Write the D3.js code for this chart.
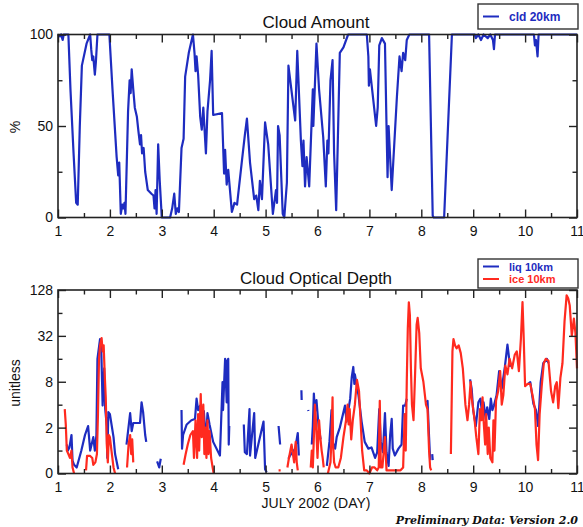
<!DOCTYPE html>
<html>
<head>
<meta charset="utf-8">
<script src="https://cdn.jsdelivr.net/npm/d3@7"></script>
<style>
body { margin: 0; background: #fff; }
svg text { font-family: "Liberation Sans", Arial, sans-serif; }
</style>
</head>
<body>
<div class="root"></div>
<script>
// axis ticks
var dayTicks = [1, 2, 3, 4, 5, 6, 7, 8, 9, 10, 11];
var halfDayTicks = [1.5, 2.5, 3.5, 4.5, 5.5, 6.5, 7.5, 8.5, 9.5, 10.5];
var pctTicks = [0, 50, 100];
var pctMinorTicks = [25, 75];
var tauTicks = [0.5, 2, 8, 32, 128];
var tauTickLabels = ["0", "2", "8", "32", "128"];
var tauMinorTicks = [1, 4, 16, 64];

// cloud amount (%), [day, value]
var cld20km = [
  [1.00,100],[1.04,99],[1.06,100],[1.09,97],[1.11,100],[1.20,100],[1.24,70],[1.30,35],[1.35,8],[1.38,7],
  [1.42,50],[1.46,83],[1.55,95],[1.62,100],[1.64,92],[1.66,86],[1.68,88],[1.71,78],[1.73,85],[1.76,100],
  [1.99,100],[2.05,70],[2.13,33],[2.16,23],[2.18,30],[2.21,2],[2.24,7],[2.26,5],[2.28,8],[2.30,2],
  [2.35,58],[2.38,75],[2.40,68],[2.42,81],[2.45,70],[2.48,60],[2.52,55],[2.55,47],[2.58,40],[2.60,45],
  [2.62,35],[2.65,38],[2.68,25],[2.73,15],[2.80,13],[2.84,12],[2.86,5],[2.88,15],[2.90,2],[2.93,40],
  [2.96,20],[3.00,0],[3.16,0],[3.20,5],[3.24,13],[3.27,2],[3.30,5],[3.33,3],[3.38,38],[3.42,43],
  [3.45,77],[3.52,90],[3.60,100],[3.63,90],[3.65,80],[3.67,88],[3.70,78],[3.74,55],[3.77,48],[3.80,60],
  [3.85,35],[3.88,58],[3.93,75],[3.96,91],[3.99,56],[4.16,57],[4.20,24],[4.22,37],[4.25,18],[4.28,26],
  [4.35,3],[4.40,8],[4.45,7],[4.54,30],[4.60,45],[4.64,54],[4.70,30],[4.74,20],[4.78,10],[4.82,12],
  [4.86,4],[4.89,20],[4.93,10],[4.99,52],[5.05,40],[5.14,2],[5.20,15],[5.22,8],[5.24,50],[5.27,45],
  [5.33,2],[5.36,0],[5.41,19],[5.44,83],[5.57,53],[5.61,91],[5.68,42],[5.71,28],[5.73,42],[5.76,17],
  [5.79,33],[5.84,17],[5.91,70],[5.92,50],[5.98,95],[6.03,70],[6.11,44],[6.16,17],[6.19,42],[6.21,35],
  [6.25,75],[6.29,86],[6.32,35],[6.36,4],[6.39,40],[6.43,90],[6.50,93],[6.59,100],[6.95,100],[6.98,88],
  [6.99,72],[7.01,81],[7.13,50],[7.16,60],[7.19,94],[7.24,98],[7.30,95],[7.33,50],[7.35,22],[7.37,50],
  [7.43,15],[7.53,66],[7.58,88],[7.62,80],[7.65,90],[7.69,86],[7.72,97],[7.77,100],[8.15,100],[8.22,1],
  [8.24,0],[8.44,0],[8.59,100],[9.03,100],[9.05,98],[9.10,100],[9.15,97],[9.20,100],[9.28,98],[9.33,100],
  [9.38,97],[9.40,92],[9.42,100],[10.17,100],[10.19,94],[10.21,97],[10.24,88],[10.26,100],[11.00,100]
];

// cloud optical depth (unitless), [day, value], null = gap
var liq10km = [
  [1.17,1.2],[1.19,1.0],[1.22,1.1],[1.26,1.6],[1.28,0.74],[1.31,0.65],[1.36,0.6],[1.45,1.0],[1.52,1.6],
  [1.58,2.1],[1.62,1.0],[1.68,1.5],[1.71,1.0],[1.74,1.6],[1.76,16],[1.81,29],[1.83,27],[1.86,3.9],
  [1.89,12],[1.91,3.5],[1.94,2.1],[1.95,0.8],[1.97,3.2],[2.00,3.0],[2.07,1.5],[2.10,0.9],[2.16,0.57],null,
  [2.32,1.2],[2.39,3.1],[2.42,1.8],[2.45,2.3],[2.58,2.3],[2.61,4.3],[2.64,3.2],[2.68,1.6],[2.70,1.3],null,
  [2.91,0.72],[2.95,0.6],[2.98,0.78],null,
  [3.38,3.4],[3.39,1.06],[3.41,1.6],[3.48,2.2],[3.57,2.5],[3.64,2.6],[3.67,4.8],[3.70,3.4],[3.74,3.9],
  [3.77,1.8],[3.81,3.3],[3.85,1.3],[3.88,3.1],[3.92,2.2],[3.99,1.3],[4.12,0.86],[4.17,7.9],[4.18,3.4],
  [4.22,16],[4.25,4.3],[4.26,15],[4.28,16],[4.29,1.2],[4.30,2.1],null,
  [4.58,2.2],[4.60,0.95],[4.64,0.9],[4.69,3.5],[4.70,0.86],[4.78,3.1],[4.80,0.8],[4.96,2.4],[4.99,0.57],[5.02,0.52],null,
  [5.25,2.1],[5.28,1.2],null,
  [5.44,0.78],[5.47,0.86],[5.57,1.06],[5.62,1.7],[5.64,0.86],null,
  [5.69,6.2],[5.695,4.6],null,
  [5.82,3.4],[5.825,3.3],null,
  [5.89,1.2],[5.91,2.1],[5.93,5.6],[5.95,3.2],[5.98,4.6],[6.02,2.1],[6.06,1.4],null,
  [6.18,0.63],[6.23,1.3],[6.27,3.4],[6.29,1.3],[6.34,1.06],[6.37,1.5],[6.43,2.0],[6.53,3.9],[6.56,2.4],
  [6.63,4.8],[6.66,9.2],[6.69,12.5],[6.71,7.5],[6.72,10],[6.79,5.3],[6.85,2.4],[6.91,1.3],[6.98,1.06],
  [7.04,1.1],[7.11,0.8],[7.15,0.95],[7.19,3.5],[7.22,1.3],[7.26,0.95],[7.30,3.1],[7.33,0.95],[7.37,0.63],
  [7.40,1.6],[7.43,2.6],[7.45,1.06],[7.49,0.86],[7.56,1.06],[7.62,1.2],[7.65,3.9],[7.69,3.9],[7.72,4.8],null,
  [8.10,4.3],[8.12,4.5],[8.15,1.5],[8.17,0.75],null,
  [8.21,0.9],[8.22,0.75],null,
  [8.94,8.6],[8.97,6.5],[9.00,3.4],[9.05,2.1],[9.10,4.3],[9.14,4.8],[9.17,3.1],[9.20,4.3],[9.24,2.6],
  [9.27,3.7],[9.31,2.6],[9.34,4.8],[9.37,3.4],[9.40,3.9],[9.45,5.3],[9.50,11],[9.55,6.5],[9.61,12.5],
  [9.66,24.5],[9.68,19],[9.71,12.5],null,
  [10.06,7.5],[10.10,7.9],[10.16,4.1],[10.21,3.4],[10.25,2.1],[10.30,7.9],[10.35,14],[10.42,16],[10.45,14]
];

var ice10km = [
  [1.13,3.5],[1.15,2.2],[1.17,1.0],[1.20,0.9],[1.23,0.8],[1.26,1.0],[1.28,0.6],[1.31,0.5],null,
  [1.54,0.55],[1.56,0.85],[1.62,0.85],[1.66,0.8],[1.68,0.65],[1.72,0.7],[1.75,0.9],[1.77,3],[1.79,16],
  [1.81,24],[1.84,30],[1.86,20],[1.88,24],[1.90,10],[1.92,5],[1.94,1.2],[1.96,0.7],[1.98,1.6],[2.00,1.5],
  [2.03,1.0],[2.07,0.6],[2.10,0.5],null,
  [2.33,0.6],[2.36,1.2],[2.39,1.6],[2.41,0.9],[2.43,1.4],[2.45,0.7],null,
  [3.42,0.65],[3.46,0.9],[3.50,1.2],[3.55,1.6],[3.60,1.8],[3.62,0.8],[3.65,2.5],[3.68,0.8],[3.70,3],
  [3.72,1.0],[3.75,5.5],[3.77,1.5],[3.80,4],[3.82,0.9],[3.84,2.0],[3.86,0.8],[3.88,2.5],[3.90,0.9],
  [3.92,1.8],[3.95,0.8],[3.98,0.6],[4.00,0.5],null,
  [5.25,0.55],[5.29,0.55],null,
  [5.42,0.6],[5.45,0.8],[5.50,1.2],[5.55,0.7],[5.58,1.3],[5.60,0.7],[5.62,0.55],null,
  [5.87,0.6],[5.89,1.0],[5.91,0.6],[5.93,1.5],[5.95,4.0],[5.97,2.5],[6.00,0.8],[6.03,2.5],[6.05,1.6],
  [6.08,1.0],[6.10,0.8],[6.12,0.6],null,
  [6.20,0.5],[6.25,0.7],[6.27,1.5],[6.29,5.0],[6.30,1.2],[6.32,0.7],[6.35,0.6],[6.40,0.6],[6.45,0.8],
  [6.50,1.5],[6.55,2.5],[6.58,4],[6.60,2.2],[6.62,3.5],[6.65,1.4],[6.68,2.5],[6.72,4],[6.76,8.5],[6.80,6],
  [6.83,2.5],[6.86,1.0],[6.90,0.55],[6.95,0.55],[7.00,0.5],[7.05,0.6],[7.10,0.6],[7.15,0.55],[7.18,0.6],
  [7.20,4.5],[7.22,0.6],[7.25,0.6],[7.30,1.5],[7.33,0.55],[7.40,0.55],[7.50,0.55],[7.60,0.55],[7.65,0.6],
  [7.68,3.0],[7.70,1.0],[7.72,8],[7.74,40],[7.76,88],[7.78,60],[7.80,12],[7.82,4],[7.85,2.5],[7.88,10],
  [7.91,45],[7.93,55],[7.96,35],[7.99,12],[8.04,8],[8.09,4],[8.12,3.5],[8.15,1.0],[8.17,0.6],[8.19,0.55],null,
  [8.57,0.9],[8.60,20],[8.62,29],[8.65,24],[8.68,22],[8.72,24],[8.76,19],[8.80,12],[8.85,4],[8.89,2.5],
  [8.92,4],[8.95,8],[8.97,5],[9.00,3.5],[9.03,2.4],[9.06,1.5],[9.10,0.9],[9.13,3.5],[9.16,2.5],[9.18,5],
  [9.20,2.5],[9.23,1.2],[9.25,3],[9.28,0.9],[9.30,2],[9.33,0.8],[9.37,0.7],[9.39,2.5],[9.41,1.0],[9.44,4.5],
  [9.48,6],[9.52,11],[9.55,4],[9.58,5.3],[9.62,13],[9.66,10],[9.70,16],[9.75,12],[9.80,18],[9.84,20],
  [9.88,11],[9.92,30],[9.95,89],[9.97,35],[10.00,7],[10.05,7.5],[10.10,7.5],[10.15,5],[10.19,3.5],
  [10.22,1.2],[10.25,0.75],[10.28,3],[10.32,7],[10.36,14],[10.40,16],[10.45,15],[10.50,6],[10.54,4.3],
  [10.58,7],[10.61,7.9],[10.64,3.6],[10.68,9],[10.72,14],[10.76,50],[10.80,109],[10.83,100],[10.86,80],
  [10.90,32],[10.94,54],[10.97,35],[11.00,12]
];

var blue = "#1e2cc0";
var red = "#ff2a1f";
var ink = "#222";

var width = 583;
var height = 527;
var svg = d3.select(".root").append("svg")
  .attr("width", width)
  .attr("height", height);

var x = d3.scaleLinear().domain([1, 11]).range([58, 577]);
var yPct = d3.scaleLinear().domain([0, 100]).range([217.5, 34.5]);
var yTau = d3.scaleLog().base(2).domain([0.5, 128]).range([473.5, 290]).clamp(true);

function drawAxes(y, major, minor, fmt) {
  var top = y.range()[1], bot = y.range()[0];
  var g = svg.append("g");
  g.append("g").attr("transform", "translate(0," + bot + ")")
    .call(d3.axisBottom(x).tickValues(dayTicks).tickSize(-8).tickPadding(9).tickFormat(d3.format("d")));
  g.append("g").attr("transform", "translate(0," + bot + ")")
    .call(d3.axisBottom(x).tickValues(halfDayTicks).tickSize(-4.5).tickFormat(""));
  g.append("g").attr("transform", "translate(0," + top + ")")
    .call(d3.axisTop(x).tickValues(dayTicks).tickSize(-8).tickFormat(""));
  g.append("g").attr("transform", "translate(0," + top + ")")
    .call(d3.axisTop(x).tickValues(halfDayTicks).tickSize(-4.5).tickFormat(""));
  g.append("g").attr("transform", "translate(58,0)")
    .call(d3.axisLeft(y).tickValues(major).tickSize(-8).tickPadding(5).tickFormat(fmt));
  g.append("g").attr("transform", "translate(58,0)")
    .call(d3.axisLeft(y).tickValues(minor).tickSize(-4.5).tickFormat(""));
  g.append("g").attr("transform", "translate(577,0)")
    .call(d3.axisRight(y).tickValues(major).tickSize(-8).tickFormat(""));
  g.append("g").attr("transform", "translate(577,0)")
    .call(d3.axisRight(y).tickValues(minor).tickSize(-4.5).tickFormat(""));
  g.selectAll(".domain").remove();
  g.selectAll(".tick line").attr("stroke", ink).attr("stroke-width", 1.4);
  g.selectAll(".tick text")
    .style("font-size", "14px")
    .style("font-family", "'Liberation Sans', Arial, sans-serif")
    .attr("fill", "#111");
  svg.append("rect")
    .attr("x", 58).attr("y", top)
    .attr("width", 577 - 58).attr("height", bot - top)
    .attr("fill", "none").attr("stroke", ink).attr("stroke-width", 1.6);
}

function drawLine(data, y, color) {
  var line = d3.line()
    .defined(function (d) { return d !== null; })
    .x(function (d) { return x(d[0]); })
    .y(function (d) { return y(d[1]); });
  svg.append("path")
    .datum(data)
    .attr("fill", "none")
    .attr("stroke", color)
    .attr("stroke-width", 2.2)
    .attr("stroke-linejoin", "round")
    .attr("d", line);
}

function legend(y0, h, items) {
  svg.append("rect")
    .attr("x", 478).attr("y", y0).attr("width", 100).attr("height", h)
    .attr("fill", "#fff").attr("stroke", "#333").attr("stroke-width", 1.4);
  items.forEach(function (it, i) {
    var yy = y0 + 7.5 + i * 12.5 + (items.length == 1 ? 5 : 0);
    svg.append("line")
      .attr("x1", 483).attr("x2", 499).attr("y1", yy).attr("y2", yy)
      .attr("stroke", it.color).attr("stroke-width", 2);
    svg.append("text")
      .attr("x", 509).attr("y", yy + 4)
      .attr("fill", it.color)
      .style("font-size", (items.length == 1 ? "12px" : "11px"))
      .style("font-weight", "bold")
      .text(it.label);
  });
}

// top panel: cloud amount
drawLine(cld20km, yPct, blue);
drawAxes(yPct, pctTicks, pctMinorTicks, d3.format("d"));

// bottom panel: optical depth
drawLine(liq10km, yTau, blue);
drawLine(ice10km, yTau, red);
drawAxes(yTau, tauTicks, tauMinorTicks, function (d, i) { return tauTickLabels[i]; });

svg.append("text").attr("x", 316).attr("y", 28).attr("text-anchor", "middle")
  .style("font-size", "17px").attr("fill", "#111").text("Cloud Amount");
svg.append("text").attr("x", 316).attr("y", 284).attr("text-anchor", "middle")
  .style("font-size", "17px").attr("fill", "#111").text("Cloud Optical Depth");

svg.append("text").attr("transform", "translate(20,127) rotate(-90)").attr("text-anchor", "middle")
  .style("font-size", "14px").attr("fill", "#111").text("%");
svg.append("text").attr("transform", "translate(20,383) rotate(-90)").attr("text-anchor", "middle")
  .style("font-size", "14px").attr("fill", "#111").text("unitless");

svg.append("text").attr("x", 316).attr("y", 508).attr("text-anchor", "middle")
  .style("font-size", "14px").attr("fill", "#111").text("JULY 2002 (DAY)");

svg.append("text").attr("x", 578).attr("y", 524).attr("text-anchor", "end")
  .style("font-size", "11px").style("font-weight", "bold").style("font-style", "italic")
  .style("font-family", "'DejaVu Serif', serif")
  .attr("fill", "#111").text("Preliminary Data: Version 2.0");

legend(4, 25, [{ label: "cld 20km", color: blue }]);
legend(259, 29, [{ label: "liq 10km", color: blue }, { label: "ice 10km", color: red }]);
</script>
</body>
</html>
